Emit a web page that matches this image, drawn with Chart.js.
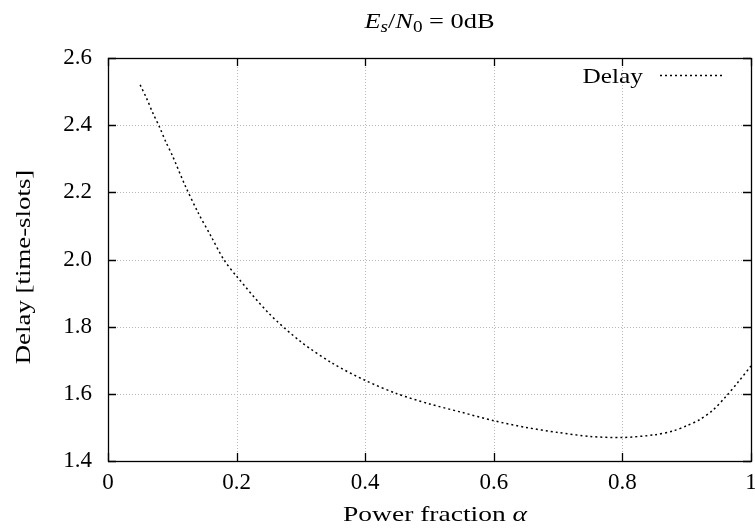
<!DOCTYPE html>
<html><head><meta charset="utf-8">
<script src="https://cdn.jsdelivr.net/npm/chart.js@4"></script>
<style>html,body{margin:0;padding:0;background:#fff;overflow:hidden}#wrap{width:755px;height:532px}canvas{display:block}</style>
</head><body><div id="wrap"><canvas id="c" width="755" height="532"></canvas></div>
<script>
const alpha = [0.05,0.06,0.07,0.08,0.09,0.10,0.12,0.14,0.16,0.18,0.20,0.25,0.30,0.35,0.40,0.45,0.50,0.55,0.60,0.65,0.70,0.75,0.80,0.85,0.88,0.90,0.92,0.94,0.96,0.98,1.00];
const delay = [2.52,2.48,2.435,2.395,2.35,2.31,2.22,2.14,2.07,2.00,1.95,1.84,1.755,1.69,1.64,1.60,1.57,1.545,1.52,1.50,1.485,1.473,1.47,1.478,1.49,1.505,1.523,1.55,1.59,1.635,1.683];
const xTicks = [0,0.2,0.4,0.6,0.8,1];
const yTicks = [1.4,1.6,1.8,2.0,2.2,2.4,2.6];
const seriesName = 'Delay';
const FONT = '"Liberation Serif", "DejaVu Serif", serif';

function stretchText(ctx, parts, cx, base, sx, align){
  let w=0;
  parts.forEach(p=>{ctx.font=(p[1]?'italic ':'')+p[2]+'px '+FONT; w+=ctx.measureText(p[0]).width;});
  ctx.save(); ctx.translate(cx, base); ctx.scale(sx,1);
  let xx = align==='right' ? -w : -w/2;
  ctx.textAlign='left'; ctx.textBaseline='alphabetic';
  parts.forEach(p=>{ctx.font=(p[1]?'italic ':'')+p[2]+'px '+FONT; ctx.fillText(p[0],xx,p[3]||0); xx+=ctx.measureText(p[0]).width;});
  ctx.restore();
}

const deco = {
  id:'deco',
  beforeDatasetsDraw(chart){
    const {ctx, chartArea:a, scales:{x,y}} = chart;
    ctx.save();
    ctx.strokeStyle = '#b8b8b8'; ctx.lineWidth = 1; ctx.setLineDash([1,2]);
    xTicks.forEach(v=>{ if(v<=0||v>=1) return; const p=Math.round(x.getPixelForValue(v))+0.5; ctx.beginPath(); ctx.moveTo(p,a.top); ctx.lineTo(p,a.bottom); ctx.stroke(); });
    yTicks.forEach(v=>{ if(v<=1.4||v>=2.6) return; const p=Math.round(y.getPixelForValue(v))+0.5; ctx.beginPath(); ctx.moveTo(a.left,p); ctx.lineTo(a.right,p); ctx.stroke(); });
    ctx.restore();
  },
  afterDatasetsDraw(chart){
    const {ctx, chartArea:a, scales:{x,y}} = chart;
    ctx.save();
    ctx.setLineDash([]); ctx.strokeStyle='#000'; ctx.lineWidth=1.3;
    ctx.strokeRect(Math.round(a.left)+0.5, Math.round(a.top)+0.5, Math.round(a.right-a.left), Math.round(a.bottom-a.top));
    const L=8;
    xTicks.forEach(v=>{ const p=Math.round(x.getPixelForValue(v))+0.5; ctx.beginPath(); ctx.moveTo(p,a.bottom); ctx.lineTo(p,a.bottom-L); ctx.moveTo(p,a.top); ctx.lineTo(p,a.top+L); ctx.stroke(); });
    yTicks.forEach(v=>{ const p=Math.round(y.getPixelForValue(v))+0.5; ctx.beginPath(); ctx.moveTo(a.left,p); ctx.lineTo(a.left+L,p); ctx.moveTo(a.right,p); ctx.lineTo(a.right-L,p); ctx.stroke(); });
    ctx.fillStyle='#000';
    stretchText(ctx, [[seriesName,false,22]], 643, 83, 1.15, 'right');
    ctx.strokeStyle='#000'; ctx.lineWidth=1.5; ctx.setLineDash([2,3]);
    ctx.beginPath(); ctx.moveTo(660,75.5); ctx.lineTo(723,75.5); ctx.stroke();
    ctx.setLineDash([]);
    stretchText(ctx, [['E',true,22],['s',true,16,4],['/',false,22],['N',true,22],['0',false,16,4],[' = 0dB',false,22]], (a.left+a.right)/2, 28, 1.2);
    stretchText(ctx, [['Power fraction ',false,22],['α',true,22]], 435, 521, 1.25);
    ctx.save(); ctx.translate(30,267); ctx.rotate(-Math.PI/2);
    stretchText(ctx, [['Delay [time-slots]',false,22]], 0, 0, 1.22);
    ctx.restore();
    ctx.restore();
  }
};

new Chart(document.getElementById('c'), {
  type:'line',
  data:{ datasets:[{ label:seriesName, data: alpha.map((v,i)=>({x:v,y:delay[i]})),
    borderColor:'#000', borderWidth:1.5, borderDash:[2,3], pointRadius:0, tension:0.3, fill:false }]},
  options:{
    responsive:false, animation:false, devicePixelRatio:1,
    layout:{padding:{top:58,right:4,left:0,bottom:0}},
    plugins:{legend:{display:false}, title:{display:false}, tooltip:{enabled:false}},
    scales:{
      x:{type:'linear', min:0, max:1, afterFit:s=>{s.height=71; s.paddingLeft=0; s.paddingRight=0;},
         afterBuildTicks:s=>{s.ticks=xTicks.map(v=>({value:v}));},
         grid:{display:false, drawTicks:false}, border:{display:false},
         ticks:{padding:8, color:'#000', font:{family:FONT,size:23}, maxRotation:0, autoSkip:false, callback:v=>String(v)}},
      y:{type:'linear', min:1.4, max:2.6, afterFit:s=>{s.width=108; s.paddingTop=0; s.paddingBottom=0;},
         afterBuildTicks:s=>{s.ticks=yTicks.map(v=>({value:v}));},
         grid:{display:false, drawTicks:false}, border:{display:false},
         ticks:{padding:16, color:'#000', font:{family:FONT,size:23}, autoSkip:false, callback:v=>v.toFixed(1)}}
    }
  },
  plugins:[deco]
});
</script></body></html>
